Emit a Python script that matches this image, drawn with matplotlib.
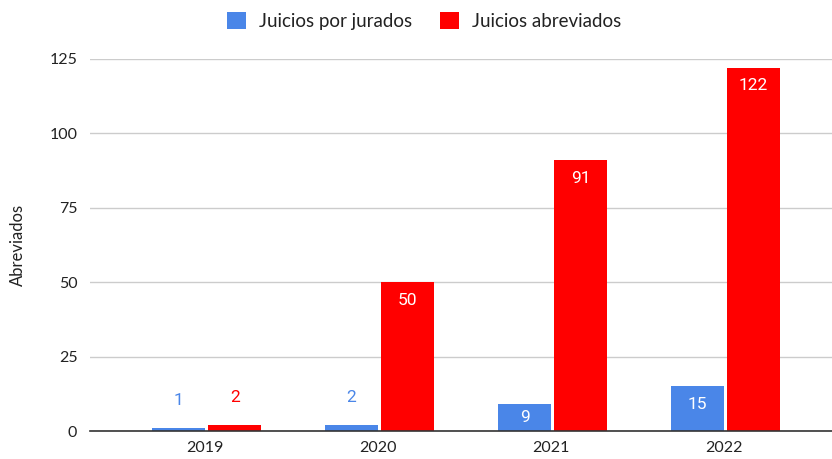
import matplotlib
matplotlib.use("Agg")
import matplotlib.pyplot as plt
import numpy as np

years = ["2019", "2020", "2021", "2022"]
jurados = [1, 2, 9, 15]
abreviados = [2, 50, 91, 122]
series_names = ["Juicios por jurados", "Juicios abreviados"]
y_ticks = [0, 25, 50, 75, 100, 125]
y_label = "Abreviados"

colors = ["#4a86e8", "#ff0000"]
label_font = "Lato"
value_font = "Roboto"

fig = plt.figure(figsize=(8.32, 4.59), dpi=100)
ax = fig.add_axes([0.108, 0.061, 0.892, 0.8105])

x = np.arange(len(years))
width = 0.306
offset = 0.162
pxu = 372 / 125.0

for vals, off, col, name in [(jurados, -offset, colors[0], series_names[0]),
                             (abreviados, offset, colors[1], series_names[1])]:
    bars = ax.bar(x + off + 0.01, vals, width, color=col, label=name, zorder=3)
    for b, v in zip(bars, vals):
        cx = b.get_x() + b.get_width() / 2
        h = v * pxu
        if h > 36:
            ax.annotate(str(v), (cx, v), xytext=(0, -18), textcoords="offset pixels",
                        ha="center", va="center", color="white", fontsize=12.5,
                        family=value_font, zorder=4)
        elif h > 20:
            ax.annotate(str(v), (cx, v / 2), xytext=(0, 0), textcoords="offset pixels",
                        ha="center", va="center", color="white", fontsize=12.5,
                        family=value_font, zorder=4)
        else:
            ax.annotate(str(v), (cx, v), xytext=(0, 28), textcoords="offset pixels",
                        ha="center", va="center", color=col, fontsize=12.5,
                        family=value_font, zorder=4)

ax.set_xlim(-0.665, 3.625)
ax.set_ylim(0, 125)
ax.set_yticks(y_ticks)
ax.set_yticklabels([str(t) for t in y_ticks], family=label_font, fontsize=11.5, color="#222222")
ax.set_xticks(x)
ax.set_xticklabels(years, family=label_font, fontsize=11.5, color="#222222")
ax.tick_params(axis="both", length=0, pad=9)
ax.tick_params(axis="x", pad=7)
ax.grid(axis="y", color="#cccccc", linewidth=1, zorder=0)
ax.set_axisbelow(True)
for s in ["top", "right", "left"]:
    ax.spines[s].set_visible(False)
ax.spines["bottom"].set_color("#333333")
ax.spines["bottom"].set_linewidth(1.2)
ax.spines["bottom"].set_zorder(5)
ax.set_ylabel(y_label, family=label_font, fontsize=12, color="#222222", labelpad=17)

leg = fig.legend(loc="upper center", bbox_to_anchor=(0.51, 1.01), ncol=2, frameon=False,
                 prop={"family": label_font, "size": 13.5}, handlelength=1.0,
                 handleheight=1.0, columnspacing=1.5, handletextpad=0.7)
for t in leg.get_texts():
    t.set_color("#222222")

fig.savefig("out.png", dpi=100)
